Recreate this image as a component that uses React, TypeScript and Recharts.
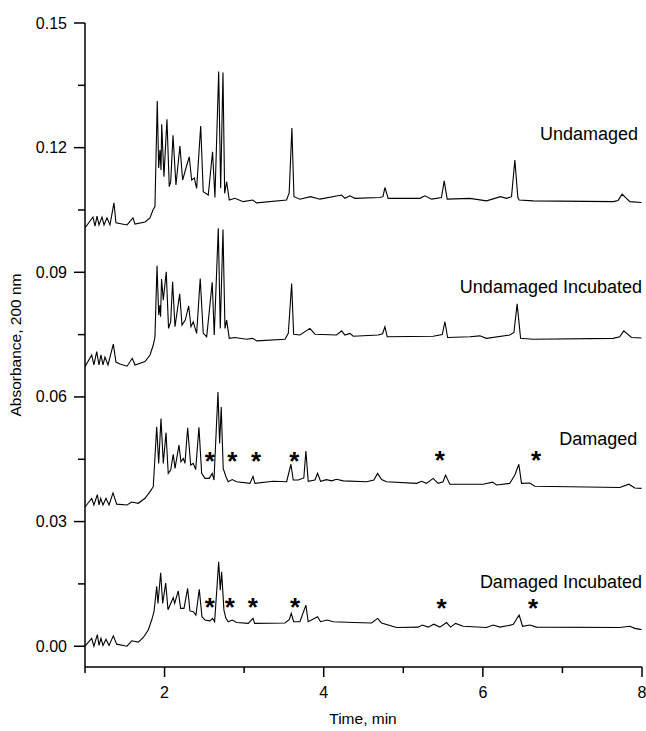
import { ComposedChart, Line, Scatter, XAxis, YAxis } from 'recharts';

// [time (min), absorbance], one list per trace
const undamaged = [
  [1.0, 0.1007], [1.1, 0.1033], [1.126, 0.1011], [1.151, 0.1035], [1.176, 0.1014], [1.214, 0.1033],
  [1.239, 0.1014], [1.276, 0.1031], [1.314, 0.1014], [1.364, 0.1067], [1.389, 0.1019], [1.528, 0.1014],
  [1.603, 0.1031], [1.628, 0.1016], [1.754, 0.1021], [1.817, 0.1031], [1.854, 0.105], [1.879, 0.1058],
  [1.908, 0.1312], [1.926, 0.1151], [1.942, 0.1194], [1.955, 0.1146], [1.964, 0.1256], [1.992, 0.113],
  [2.03, 0.1268], [2.059, 0.1106], [2.077, 0.1118], [2.106, 0.123], [2.143, 0.111], [2.193, 0.1204],
  [2.227, 0.1122], [2.269, 0.1151], [2.31, 0.1178], [2.34, 0.1122], [2.373, 0.1127], [2.403, 0.1102],
  [2.454, 0.1252], [2.486, 0.1094], [2.549, 0.1086], [2.603, 0.119], [2.633, 0.108], [2.68, 0.1383],
  [2.705, 0.1102], [2.734, 0.1381], [2.755, 0.109], [2.78, 0.1118], [2.813, 0.1074], [2.884, 0.1078],
  [2.989, 0.107], [3.107, 0.1074], [3.157, 0.1067], [3.533, 0.1074], [3.566, 0.1091], [3.6, 0.1247],
  [3.626, 0.1082], [3.701, 0.1076], [3.834, 0.1082], [3.952, 0.1076], [4.225, 0.1086], [4.266, 0.1078],
  [4.329, 0.1084], [4.392, 0.1078], [4.706, 0.108], [4.745, 0.1082], [4.769, 0.1104], [4.81, 0.1078],
  [5.209, 0.1078], [5.271, 0.1084], [5.356, 0.1076], [5.48, 0.108], [5.514, 0.112], [5.552, 0.1076],
  [5.837, 0.1078], [6.046, 0.1072], [6.222, 0.1082], [6.298, 0.1078], [6.36, 0.1082], [6.402, 0.117],
  [6.44, 0.108], [6.456, 0.1074], [6.632, 0.1072], [7.637, 0.107], [7.7, 0.1073], [7.75, 0.1088],
  [7.847, 0.107], [7.994, 0.1068],
];

const undamagedIncubated = [
  [1.0, 0.0673], [1.084, 0.0701], [1.112, 0.0677], [1.147, 0.0709], [1.176, 0.0677], [1.201, 0.0701],
  [1.226, 0.0677], [1.251, 0.0696], [1.289, 0.0677], [1.356, 0.0727], [1.389, 0.0684], [1.44, 0.0679],
  [1.528, 0.0674], [1.594, 0.0693], [1.628, 0.0677], [1.754, 0.0685], [1.817, 0.0701], [1.858, 0.0725],
  [1.879, 0.0744], [1.905, 0.0916], [1.926, 0.0797], [1.942, 0.0821], [1.95, 0.0793], [1.962, 0.0884],
  [1.984, 0.0833], [2.021, 0.0901], [2.05, 0.0765], [2.077, 0.0781], [2.101, 0.0877], [2.131, 0.0769],
  [2.19, 0.0848], [2.219, 0.0773], [2.26, 0.0785], [2.303, 0.0819], [2.332, 0.0769], [2.36, 0.0781],
  [2.403, 0.0753], [2.448, 0.0885], [2.486, 0.0753], [2.529, 0.0745], [2.599, 0.0876], [2.624, 0.0749],
  [2.675, 0.1006], [2.7, 0.0765], [2.734, 0.1003], [2.759, 0.0765], [2.78, 0.0785], [2.813, 0.0741],
  [2.884, 0.0743], [3.03, 0.0739], [3.107, 0.0741], [3.157, 0.0735], [3.513, 0.0739], [3.555, 0.0753],
  [3.597, 0.0873], [3.622, 0.0751], [3.701, 0.0749], [3.827, 0.0765], [3.89, 0.0751], [4.162, 0.0749],
  [4.225, 0.0759], [4.266, 0.0749], [4.329, 0.0753], [4.371, 0.0746], [4.685, 0.0749], [4.74, 0.0752],
  [4.769, 0.0769], [4.798, 0.0745], [5.376, 0.0746], [5.49, 0.075], [5.523, 0.0781], [5.557, 0.0743],
  [5.837, 0.0745], [5.962, 0.0747], [6.046, 0.0741], [6.339, 0.0749], [6.39, 0.0755], [6.431, 0.0824],
  [6.474, 0.0741], [6.632, 0.0739], [7.637, 0.0741], [7.72, 0.0745], [7.771, 0.0759], [7.868, 0.0743],
  [7.994, 0.0742],
];

const damaged = [
  [1.0, 0.0335], [1.084, 0.0356], [1.112, 0.034], [1.155, 0.0365], [1.176, 0.034], [1.197, 0.0356],
  [1.226, 0.034], [1.264, 0.0356], [1.302, 0.034], [1.352, 0.0369], [1.398, 0.0342], [1.528, 0.034],
  [1.587, 0.0347], [1.67, 0.0344], [1.754, 0.0356], [1.817, 0.0372], [1.858, 0.0384], [1.901, 0.0528],
  [1.926, 0.044], [1.955, 0.0548], [1.984, 0.044], [2.018, 0.0514], [2.046, 0.0416], [2.077, 0.0424],
  [2.109, 0.0462], [2.131, 0.0428], [2.181, 0.0484], [2.206, 0.0444], [2.235, 0.0452], [2.256, 0.044],
  [2.29, 0.0526], [2.328, 0.0436], [2.36, 0.044], [2.391, 0.0425], [2.432, 0.0527], [2.466, 0.0416],
  [2.508, 0.0404], [2.562, 0.0404], [2.599, 0.0416], [2.621, 0.04], [2.671, 0.0612], [2.692, 0.0488],
  [2.712, 0.0576], [2.737, 0.0428], [2.771, 0.0408], [2.8, 0.0396], [2.85, 0.0401], [2.906, 0.0396],
  [3.073, 0.0392], [3.111, 0.0409], [3.136, 0.0392], [3.366, 0.0397], [3.534, 0.0396], [3.588, 0.0438],
  [3.617, 0.04], [3.68, 0.04], [3.75, 0.0405], [3.776, 0.047], [3.805, 0.0397], [3.889, 0.04],
  [3.923, 0.0416], [3.96, 0.0397], [4.035, 0.0401], [4.099, 0.0398], [4.161, 0.0402], [4.245, 0.0398],
  [4.539, 0.0396], [4.63, 0.04], [4.677, 0.0416], [4.727, 0.0401], [4.79, 0.0396], [5.167, 0.0392],
  [5.23, 0.0397], [5.291, 0.0392], [5.375, 0.0404], [5.438, 0.0392], [5.5, 0.0396], [5.531, 0.0412],
  [5.585, 0.039], [6.004, 0.039], [6.122, 0.0395], [6.172, 0.0388], [6.339, 0.0392], [6.402, 0.0412],
  [6.452, 0.0438], [6.486, 0.0392], [6.59, 0.0393], [6.653, 0.0385], [7.721, 0.0382], [7.834, 0.039],
  [7.91, 0.0381], [7.994, 0.038],
];

const damagedIncubated = [
  [1.0, 0.0], [1.084, 0.0019], [1.112, 0.0], [1.155, 0.0028], [1.176, 0.0002], [1.201, 0.0019],
  [1.226, 0.0002], [1.264, 0.0017], [1.302, 0.0002], [1.356, 0.0025], [1.398, 0.0005], [1.528, 0.0],
  [1.587, 0.0013], [1.67, 0.001], [1.733, 0.0021], [1.795, 0.0039], [1.838, 0.0063], [1.867, 0.0083],
  [1.883, 0.0111], [1.901, 0.0144], [1.917, 0.0103], [1.951, 0.0177], [1.976, 0.0103], [2.014, 0.0152],
  [2.043, 0.0088], [2.077, 0.0103], [2.109, 0.0117], [2.127, 0.0103], [2.172, 0.0133], [2.202, 0.0091],
  [2.244, 0.0091], [2.29, 0.0139], [2.319, 0.0085], [2.36, 0.0083], [2.394, 0.0075], [2.436, 0.0137],
  [2.47, 0.0071], [2.508, 0.0063], [2.57, 0.0061], [2.604, 0.0067], [2.629, 0.0059], [2.68, 0.0203],
  [2.7, 0.0135], [2.717, 0.0179], [2.746, 0.0087], [2.771, 0.0067], [2.8, 0.0059], [2.85, 0.0063],
  [2.906, 0.0057], [3.052, 0.0055], [3.111, 0.0067], [3.132, 0.0055], [3.513, 0.0056], [3.567, 0.0064],
  [3.592, 0.0079], [3.622, 0.0059], [3.701, 0.0059], [3.776, 0.0099], [3.805, 0.0059], [3.923, 0.0071],
  [3.96, 0.0059], [4.044, 0.0063], [4.119, 0.0059], [4.371, 0.0057], [4.602, 0.0056], [4.677, 0.0067],
  [4.727, 0.0056], [4.915, 0.0045], [5.187, 0.0046], [5.237, 0.0051], [5.313, 0.0046], [5.384, 0.0053],
  [5.46, 0.0046], [5.544, 0.0057], [5.594, 0.0046], [5.657, 0.0055], [5.752, 0.0048], [6.046, 0.0045],
  [6.129, 0.0051], [6.214, 0.0046], [6.381, 0.0052], [6.456, 0.0075], [6.499, 0.0048], [6.59, 0.0051],
  [6.675, 0.0046], [7.721, 0.0045], [7.847, 0.0048], [7.91, 0.0043], [7.994, 0.004],
];

// asterisks marking the new peaks
const damagedStars = [[2.57, 0.0453], [2.85, 0.0453], [3.15, 0.0453], [3.63, 0.0453], [5.46, 0.0455], [6.67, 0.0455]];
const damagedIncubatedStars = [[2.57, 0.0101], [2.82, 0.0101], [3.11, 0.0101], [3.64, 0.0101], [5.48, 0.0099], [6.63, 0.0099]];

// trace names, placed at their right end
const traceNames = ['Undamaged', 'Undamaged Incubated', 'Damaged', 'Damaged Incubated'];
const nameTime = [7.95, 8.0, 7.94, 8.0];
const nameAbs = [0.1233, 0.0867, 0.0501, 0.0155];

const xTicks = [1, 2, 3, 4, 5, 6, 7, 8];
const yTicks = [0, 0.015, 0.03, 0.045, 0.06, 0.075, 0.09, 0.105, 0.12, 0.135, 0.15];

const FONT = '"Liberation Sans", Arial, Helvetica, sans-serif';

const toPts = (arr: number[][]) => arr.map(([t, v]) => ({ t, v }));
const traces = [undamaged, undamagedIncubated, damaged, damagedIncubated].map(toPts);
const stars = toPts([...damagedStars, ...damagedIncubatedStars]);
const names = traceNames.map((name, i) => ({ t: nameTime[i], v: nameAbs[i], name }));

function YTick(props: any) {
  const { x, y, payload } = props;
  const val = payload.value;
  const major = Math.abs(val / 0.03 - Math.round(val / 0.03)) < 1e-6;
  return (
    <g>
      <line x1={x - (major ? 11 : 7)} y1={y} x2={x} y2={y} stroke="#000" strokeWidth={1.5} />
      {major && (
        <text x={x - 18} y={y + 5.5} textAnchor="end" fontSize={16} fill="#000" fontFamily={FONT}>
          {val.toFixed(2)}
        </text>
      )}
    </g>
  );
}

function XTick(props: any) {
  const { x, y, payload } = props;
  const major = payload.value % 2 === 0;
  return (
    <g>
      <line x1={x} y1={y} x2={x} y2={y + (major ? 10 : 6)} stroke="#000" strokeWidth={1.5} />
      {major && (
        <text x={x} y={y + 31} textAnchor="middle" fontSize={16} fill="#000" fontFamily={FONT}>
          {payload.value}
        </text>
      )}
    </g>
  );
}

const Star = (p: any) => (
  <text x={p.cx} y={p.cy + 12} textAnchor="middle" fontSize={26} fontWeight="bold" fill="#000" fontFamily={FONT}>*</text>
);

const Name = (p: any) => (
  <text x={p.cx} y={p.cy + 6.5} textAnchor="end" fontSize={18} fill="#000" fontFamily={FONT}>{p.payload.name}</text>
);

export default function App() {
  return (
    <div style={{ position: 'absolute', left: 0, top: 0, width: 646, height: 731, overflow: 'hidden', background: '#fff', fontFamily: FONT }}>
      <ComposedChart width={646} height={731} margin={{ top: 23, right: 4, left: 0, bottom: 0 }}>
        <XAxis
          type="number" dataKey="t" domain={[1, 8]} ticks={xTicks} interval={0} allowDataOverflow
          height={64} tickSize={0} tickMargin={0} tickLine={false} tick={<XTick />}
          axisLine={{ stroke: '#000', strokeWidth: 1.5 }}
        />
        <YAxis
          type="number" dataKey="v" domain={[-0.005, 0.15]} ticks={yTicks} interval={0} allowDataOverflow
          width={85} tickSize={0} tickMargin={0} tickLine={false} tick={<YTick />}
          axisLine={{ stroke: '#000', strokeWidth: 1.5 }}
        />
        {traces.map((d, i) => (
          <Line key={i} data={d} dataKey="v" type="linear" stroke="#000" strokeWidth={1.1} dot={false} isAnimationActive={false} />
        ))}
        <Scatter data={stars} dataKey="v" shape={<Star />} isAnimationActive={false} />
        <Scatter data={names} dataKey="v" shape={<Name />} isAnimationActive={false} />
      </ComposedChart>
      <svg width={646} height={731} style={{ position: 'absolute', left: 0, top: 0, pointerEvents: 'none' }}>
        <text x={363} y={724} textAnchor="middle" fontSize={15.5} fill="#000" fontFamily={FONT}>Time, min</text>
        <text x={21} y={345} transform="rotate(-90 21 345)" textAnchor="middle" fontSize={15.5} fill="#000" fontFamily={FONT}>Absorbance, 200 nm</text>
      </svg>
    </div>
  );
}
